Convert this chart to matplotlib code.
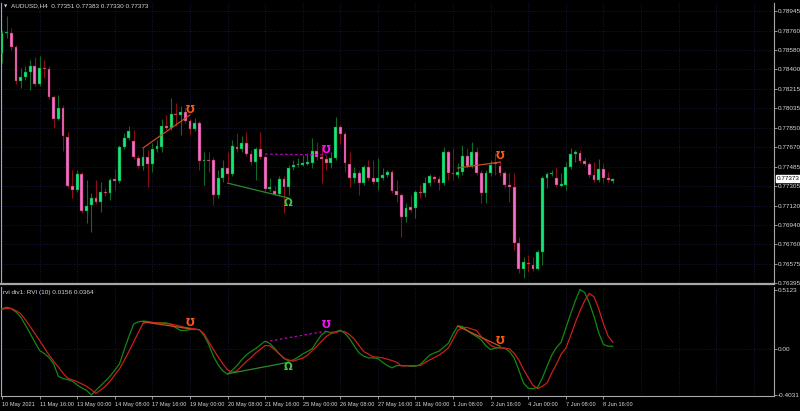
import numpy as np
import matplotlib.pyplot as plt

# AUDUSD H4 candles
opens = [.78551, .78739, .78739, .78607, .78289, .78326, .78373, .78429, .78260, .78415,
         .78405, .78139, .77932, .78036, .77764, .77304, .77267, .77417, .77070, .77126,
         .77192, .77154, .77248, .77239, .77370, .77351, .77670, .77754, .77726, .77567,
         .77492, .77576, .77511, .77651, .77670, .77867, .77848, .77984, .77970, .77998,
         .77914, .77839, .77895, .77543, .77553, .77548, .77220, .77379, .77473, .77417,
         .77670, .77651, .77707, .77604, .77529, .77651, .77576, .77276, .77257, .77229,
         .77370, .77295, .77482, .77501, .77501, .77511, .77520, .77632, .77576, .77557,
         .77520, .77567, .77857, .77792, .77511, .77379, .77426, .77332, .77482, .77379,
         .77342, .77379, .77407, .77436, .77257, .77220, .77014, .77107, .77098, .77252,
         .77239, .77332, .77389, .77370, .77332, .77623, .77426, .77407, .77436, .77586,
         .77492, .77623, .77426, .77239, .77426, .77524, .77492, .77426, .77314, .77295,
         .76770, .76526, .76582, .76564, .76526, .76686, .77379, .77417, .77379, .77309,
         .77314, .77482, .77609, .77614, .77539, .77511, .77407, .77361, .77464, .77379,
         .77351]
highs = [.78767, .78898, .78786, .78626, .78411, .78429, .78486, .78514, .78523, .78486,
         .78429, .78157, .78157, .78064, .77811, .77454, .77454, .77436, .77361, .77239,
         .77361, .77342, .77286, .77379, .77464, .77689, .77801, .77867, .77829, .77595,
         .77661, .77642, .77707, .77736, .77932, .77970, .78129, .78082, .78054, .78036,
         .77932, .77942, .77914, .77623, .77623, .77576, .77454, .77548, .77623, .77736,
         .77801, .77773, .77811, .77642, .77670, .77811, .77595, .77379, .77304, .77398,
         .77398, .77501, .77548, .77567, .77595, .77614, .77754, .77717, .77679, .77595,
         .77623, .77951, .77876, .77811, .77623, .77482, .77454, .77501, .77548, .77548,
         .77567, .77473, .77454, .77454, .77361, .77239, .77145, .77220, .77267, .77314,
         .77389, .77417, .77407, .77398, .77670, .77642, .77661, .77520, .77689, .77661,
         .77717, .77670, .77454, .77454, .77548, .77614, .77539, .77445, .77426, .77426,
         .76826, .76639, .76657, .76639, .76704, .77398, .77436, .77454, .77482, .77426,
         .77529, .77661, .77642, .77642, .77567, .77529, .77529, .77557, .77520, .77436,
         .77383]
lows = [.78457, .78692, .78579, .78260, .78223, .78298, .78204, .78242, .78242, .78317,
        .78120, .77848, .77923, .77632, .77286, .77192, .77248, .77051, .76957, .76873,
        .77136, .77061, .77211, .77173, .77267, .77332, .77651, .77736, .77557, .77473,
        .77454, .77295, .77436, .77623, .77623, .77829, .77829, .77867, .77782, .77895,
        .77782, .77820, .77454, .77314, .77436, .77126, .77192, .77342, .77342, .77398,
        .77623, .77623, .77586, .77501, .77361, .77557, .77248, .77257, .77211, .77211,
        .77051, .77220, .77454, .77482, .77492, .77501, .77473, .77548, .77332, .77454,
        .77473, .77548, .77698, .77436, .77295, .77332, .77220, .77314, .77361, .77323,
        .77267, .77361, .77389, .77239, .77154, .76826, .76967, .77061, .77004, .77192,
        .77201, .77304, .77342, .77267, .77314, .77361, .77361, .77379, .77407, .77473,
        .77473, .77407, .77145, .77145, .77398, .77407, .77398, .77295, .77154, .76704,
        .76489, .76442, .76498, .76507, .76517, .76564, .77286, .77398, .77295, .77295,
        .77267, .77464, .77529, .77520, .77492, .77389, .77342, .77342, .77332, .77342,
        .77330]
closes = [.78739, .78745, .78607, .78289, .78326, .78373, .78429, .78260, .78411, .78405,
          .78139, .77932, .78036, .77773, .77304, .77267, .77417, .77070, .77117, .77192,
          .77154, .77248, .77239, .77361, .77351, .77670, .77754, .77820, .77576, .77492,
          .77576, .77511, .77651, .77679, .77867, .77848, .77979, .77974, .77998, .77914,
          .77839, .77895, .77539, .77553, .77543, .77220, .77379, .77473, .77417, .77679,
          .77651, .77707, .77604, .77529, .77651, .77576, .77276, .77295, .77229, .77370,
          .77295, .77473, .77501, .77511, .77520, .77529, .77632, .77576, .77557, .77520,
          .77567, .77857, .77792, .77520, .77379, .77426, .77332, .77482, .77379, .77342,
          .77379, .77407, .77436, .77257, .77220, .77014, .77098, .77079, .77248, .77243,
          .77332, .77398, .77370, .77332, .77623, .77426, .77417, .77436, .77586, .77492,
          .77623, .77426, .77239, .77426, .77501, .77515, .77426, .77314, .77295, .76770,
          .76526, .76592, .76573, .76526, .76686, .77379, .77417, .77426, .77314, .77319,
          .77482, .77604, .77619, .77539, .77511, .77407, .77361, .77464, .77379, .77361,
          .77373]

# RVI(10) main (green) and signal (red)
rvi_main = [0.345, 0.359, 0.345, 0.316, 0.273, 0.203, 0.130, 0.055, -0.017, -0.043,
            -0.078, -0.133, -0.241, -0.261, -0.270, -0.284, -0.316, -0.342, -0.363, -0.4031,
            -0.363, -0.322, -0.281, -0.241, -0.188, -0.133, -0.012, 0.104, 0.212, 0.232,
            0.238, 0.235, 0.226, 0.223, 0.223, 0.223, 0.206, 0.180, 0.157, 0.157,
            0.165, 0.165, 0.165, 0.113, 0.035, -0.067, -0.142, -0.194, -0.223, -0.188,
            -0.148, -0.099, -0.055, -0.026, 0.000, 0.032, 0.064, 0.043, 0.003, -0.046,
            -0.081, -0.110, -0.099, -0.075, -0.046, -0.026, -0.003, 0.061, 0.119, 0.148,
            0.139, 0.145, 0.160, 0.130, 0.084, 0.020, -0.038, -0.067, -0.081, -0.081,
            -0.087, -0.119, -0.148, -0.168, -0.148, -0.148, -0.148, -0.154, -0.154, -0.139,
            -0.099, -0.058, -0.038, -0.023, 0.012, 0.046, 0.128, 0.197, 0.191, 0.157,
            0.128, 0.104, 0.075, 0.023, -0.009, 0.003, 0.006, 0.003, -0.026, -0.081,
            -0.188, -0.301, -0.345, -0.348, -0.336, -0.255, -0.154, -0.058, 0.009, 0.055,
            0.177, 0.299, 0.412, 0.5123, 0.487, 0.397, 0.278, 0.136, 0.035, 0.020,
            0.020]
rvi_signal = [0.339, 0.348, 0.348, 0.328, 0.302, 0.249, 0.191, 0.130, 0.070, 0.006,
              -0.055, -0.110, -0.162, -0.214, -0.258, -0.272, -0.287, -0.307, -0.328, -0.357,
              -0.390, -0.360, -0.328, -0.284, -0.229, -0.177, -0.104, -0.026, 0.055, 0.136,
              0.218, 0.229, 0.226, 0.223, 0.220, 0.215, 0.212, 0.203, 0.194, 0.183,
              0.177, 0.171, 0.162, 0.128, 0.058, -0.009, -0.072, -0.133, -0.185, -0.206,
              -0.194, -0.154, -0.113, -0.078, -0.038, -0.006, 0.026, 0.023, -0.009, -0.046,
              -0.087, -0.099, -0.110, -0.096, -0.084, -0.058, -0.020, 0.020, 0.061, 0.104,
              0.130, 0.139, 0.151, 0.145, 0.119, 0.081, 0.026, -0.026, -0.049, -0.072,
              -0.075, -0.081, -0.093, -0.104, -0.119, -0.151, -0.151, -0.148, -0.148, -0.148,
              -0.122, -0.099, -0.078, -0.058, -0.029, 0.006, 0.078, 0.157, 0.183, 0.183,
              0.168, 0.157, 0.102, 0.067, 0.029, 0.009, 0.006, 0.003, -0.003, -0.041,
              -0.101, -0.183, -0.252, -0.319, -0.348, -0.328, -0.299, -0.212, -0.136, -0.049,
              0.003, 0.110, 0.223, 0.325, 0.415, 0.478, 0.449, 0.345, 0.215, 0.107,
              0.055]

time_labels = ["10 May 2021", "11 May 16:00", "13 May 00:00", "14 May 08:00", "17 May 16:00",
               "19 May 00:00", "20 May 08:00", "21 May 16:00", "25 May 00:00", "26 May 08:00",
               "27 May 16:00", "31 May 00:00", "1 Jun 08:00", "2 Jun 16:00", "4 Jun 00:00",
               "7 Jun 08:00", "8 Jun 16:00"]
price_ticks = [0.78945, 0.78760, 0.78580, 0.78400, 0.78215, 0.78035, 0.77850, 0.77670,
               0.77485, 0.77305, 0.77120, 0.76940, 0.76760, 0.76575, 0.76395]
rvi_ticks = [0.5123, 0.0, -0.4031]
rvi_tick_labels = ["0.5123", "0.00", "-0.4031"]

# divergences: bar start/end, price start/end, rvi start/end, kind, arrow positions
div_bar0 = [30, 48, 56, 97]
div_bar1 = [40, 61, 69, 106]
div_price0 = [0.77661, 0.77332, 0.77604, 0.77473]
div_price1 = [0.77970, 0.77192, 0.77595, 0.77529]
div_rvi0 = [0.232, -0.220, 0.058, 0.194]
div_rvi1 = [0.171, -0.119, 0.151, 0.020]
div_kind = ["bear", "bull", "hidden", "bear"]
mark_price = [0.78017, 0.77142, 0.77642, 0.77586]
mark_rvi = [0.224, -0.159, 0.203, 0.064]

plt.rcParams['font.family'] = ['Liberation Sans', 'DejaVu Sans']

W, H = 800, 411
fig = plt.figure(figsize=(W / 100, H / 100), dpi=100, facecolor='black')
ax = fig.add_axes([1 / W, 1 - 284 / H, 773 / W, 281 / H], facecolor='black')
ax2 = fig.add_axes([1 / W, 1 - 396 / H, 773 / W, 109 / H], facecolor='black')

txt = '#D8D8D8'
frame = '#A8A8A8'
gridc = '#1E1E48'
fs = 4.6

o = np.array(opens); h = np.array(highs); l = np.array(lows); c = np.array(closes)
x = np.arange(len(o))
up = c >= o

bull_body, bear_body = '#17E67A', '#EE72CF'
bull_wick, bear_wick = '#0E6B25', '#8A0F14'

# grid
for gx in range(0, 165, 8):
    ax.axvline(gx, color=gridc, ls=(0, (1, 2)), lw=0.6, zorder=0)
    ax2.axvline(gx, color=gridc, ls=(0, (1, 2)), lw=0.6, zorder=0)
for gy in price_ticks:
    ax.axhline(gy, color=gridc, ls=(0, (1, 2)), lw=0.6, zorder=0)
ax2.axhline(0, color=gridc, ls=(0, (1, 2)), lw=0.6, zorder=0)

# candles
ax.vlines(x[up], l[up], h[up], color=bull_wick, lw=0.8, zorder=2)
ax.vlines(x[~up], l[~up], h[~up], color=bear_wick, lw=0.8, zorder=2)
body = np.maximum(np.abs(c - o), 0.00003)
bottom = np.minimum(o, c)
ax.bar(x[up], body[up], bottom=bottom[up], width=0.6, color=bull_body,
       edgecolor=bull_wick, lw=0.3, zorder=3)
ax.bar(x[~up], body[~up], bottom=bottom[~up], width=0.6, color=bear_body,
       edgecolor=bear_wick, lw=0.3, zorder=3)

# RVI lines
ax2.plot(x, rvi_main, color='#118A11', lw=0.9, zorder=3)
ax2.plot(x, rvi_signal, color='#CC1E1E', lw=0.9, zorder=3)

# divergence lines and arrows
styles = {"bear": ('#C4501E', '#FF5A14', '-', u'\u01B1'),
          "bull": ('#2A8A2A', '#3CCB3C', '-', u'\u03A9'),
          "hidden": ('#C000C0', '#FF10FF', (0, (2, 2)), u'\u01B1')}
for b0, b1, p0, p1, r0, r1, k, mp, mr in zip(div_bar0, div_bar1, div_price0, div_price1,
                                              div_rvi0, div_rvi1, div_kind, mark_price, mark_rvi):
    lc, mc, ls, glyph = styles[k]
    ax.plot([b0, b1], [p0, p1], color=lc, lw=0.9, ls=ls, zorder=4)
    ax2.plot([b0, b1], [r0, r1], color=lc, lw=0.9, ls=ls, zorder=4)
    ax.text(b1, mp, glyph, color=mc, fontsize=7.5, fontweight='bold', ha='center', va='center',
            family='DejaVu Sans', zorder=5)
    ax2.text(b1, mr, glyph, color=mc, fontsize=7.5, fontweight='bold', ha='center', va='center',
             family='DejaVu Sans', zorder=5)

# axes
for a in (ax, ax2):
    a.set_xlim(-0.21, 164.3)
    a.yaxis.tick_right()
    for s in a.spines.values():
        s.set_color(frame)
        s.set_linewidth(0.8)
    a.spines['top'].set_visible(False)
    a.tick_params(axis='y', colors=frame, labelcolor=txt, labelsize=fs, length=2, width=0.6, pad=1)

ax.spines['bottom'].set_linewidth(1.6)
ax.set_ylim(0.76386, 0.79020)
ax.set_xticks([])
ax.set_yticks(price_ticks)
ax.set_yticklabels([f'{t:.5f}' for t in price_ticks])

ax2.set_ylim(-0.412, 0.534)
ax2.set_yticks(rvi_ticks)
ax2.set_yticklabels(rvi_tick_labels)
ax2.set_xticks(np.arange(len(time_labels)) * 8)
ax2.set_xticklabels(time_labels, ha='left')
ax2.tick_params(axis='x', colors=frame, labelcolor=txt, labelsize=4.1, length=2.5, width=0.6, pad=2)

# current price tag
ax.text(1.003, closes[-1], f'{closes[-1]:.5f}', transform=ax.get_yaxis_transform(),
        fontsize=fs, color='black', va='center', ha='left',
        bbox=dict(boxstyle='square,pad=0.12', fc='white', ec='white'))

fig.text(4 / W, 1 - 6 / H, u'\u25BC', color=txt, fontsize=3, va='center', family='DejaVu Sans')
fig.text(11 / W, 1 - 6 / H,
         f'AUDUSD,H4  {opens[-1]:.5f} {highs[-1]:.5f} {lows[-1]:.5f} {closes[-1]:.5f}',
         color=txt, fontsize=fs, va='center')
fig.text(3 / W, 1 - 292 / H, 'rvi div1: RVI (10) 0.0156 0.0364', color=txt, fontsize=fs, va='center')

fig.savefig('out.png', dpi=100, facecolor='black')
